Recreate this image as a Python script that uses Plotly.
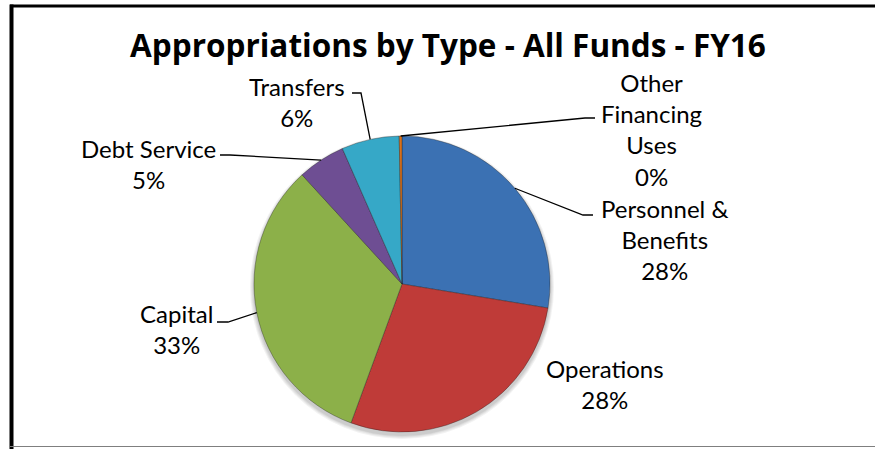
import math
import plotly.graph_objects as go

# Appropriations by type, share of all funds (percent), FY16
categories = [
    "Personnel & Benefits",
    "Operations",
    "Capital",
    "Debt Service",
    "Transfers",
    "Other Financing Uses",
]
shares = [27.6, 28.0, 32.6, 5.2, 6.3, 0.3]
colors = ["#3B71B3", "#BF3B38", "#8CB049", "#6E4E93", "#36A8C7", "#D9711C"]

title_text = "Appropriations by Type - All Funds - FY16"

# ---- layout constants (pixels) ----
W, H = 875, 449
CX, CY, R = 402, 284, 148          # pie centre and radius
LABEL_FONT = "Lato"
TITLE_FONT = "Open Sans"


def px(x):
    return x / W


def py(y):
    return 1 - y / H


# wrapped label text and label placement: (centre x, centre y, leader elbow and end)
wrapped = {
    "Personnel & Benefits": "Personnel &<br>Benefits",
    "Other Financing Uses": "Other<br>Financing<br>Uses",
}
placement = {
    "Personnel & Benefits": dict(x=664, y=239, leader=[(583, 215), (593, 215)]),
    "Operations": dict(x=605, y=384, leader=None),
    "Capital": dict(x=176, y=329, leader=[(228, 322), (217, 322)]),
    "Debt Service": dict(x=148, y=164, leader=[(230, 155), (220, 155)]),
    "Transfers": dict(x=297, y=102, leader=[(361, 93), (352, 93)]),
    "Other Financing Uses": dict(x=651, y=130, leader=[(585, 118), (595, 118)]),
}

total = sum(shares)

fig = go.Figure()
fig.add_trace(
    go.Pie(
        labels=categories,
        values=shares,
        sort=False,
        direction="clockwise",
        rotation=0,
        textinfo="none",
        hoverinfo="label+percent",
        marker=dict(colors=colors, line=dict(color="rgba(30,30,30,0.35)", width=1)),
        domain=dict(x=[px(CX - R), px(CX + R)], y=[py(CY + R), py(CY - R)]),
        showlegend=False,
    )
)

shapes = []
# soft drop shadow under the pie
for i, a in enumerate([0.05, 0.05, 0.05, 0.06]):
    rr = R + 4 - i
    shapes.append(
        dict(
            type="circle", xref="paper", yref="paper", layer="below",
            x0=px(CX - rr), x1=px(CX + rr), y0=py(CY + 3 + rr), y1=py(CY + 3 - rr),
            fillcolor=f"rgba(0,0,0,{a})", line=dict(width=0),
        )
    )

annotations = []
cum = 0.0
for name, v in zip(categories, shares):
    frac = v / total
    mid = (cum + frac / 2) * 2 * math.pi      # clockwise from 12 o'clock
    cum += frac
    ax, ay = CX + R * math.sin(mid), CY - R * math.cos(mid)
    p = placement[name]
    pct = f"{round(frac * 100):.0f}%"
    annotations.append(
        dict(
            x=px(p["x"]), y=py(p["y"]), xref="paper", yref="paper",
            xanchor="center", yanchor="middle", align="center", showarrow=False,
            text=f"{wrapped.get(name, name)}<br>{pct}",
            font=dict(family=LABEL_FONT, size=24, color="#000000"),
        )
    )
    if p["leader"]:
        pts = [(ax, ay)] + p["leader"]
        path = "M " + " L ".join(f"{px(x):.5f},{py(y):.5f}" for x, y in pts)
        shapes.append(
            dict(type="path", xref="paper", yref="paper", path=path,
                 line=dict(color="#000000", width=1.3))
        )

# chart frame
shapes += [
    dict(type="line", xref="paper", yref="paper", x0=px(10), x1=1, y0=py(6), y1=py(6),
         line=dict(color="#000000", width=3)),
    dict(type="line", xref="paper", yref="paper", x0=px(11.5), x1=px(11.5), y0=py(4.5), y1=0,
         line=dict(color="#000000", width=4)),
    dict(type="line", xref="paper", yref="paper", x0=px(10), x1=1, y0=py(446.5), y1=py(446.5),
         line=dict(color="#7F7F7F", width=1)),
]

fig.update_layout(
    width=W,
    height=H,
    margin=dict(l=0, r=0, t=0, b=0),
    paper_bgcolor="#FFFFFF",
    plot_bgcolor="#FFFFFF",
    title=dict(
        text=f"<b>{title_text}</b>",
        x=px(448), y=py(46), xanchor="center", yanchor="middle",
        font=dict(family=TITLE_FONT, size=31.5, color="#000000"),
    ),
    shapes=shapes,
    annotations=annotations,
)

fig.write_html("out.html")
